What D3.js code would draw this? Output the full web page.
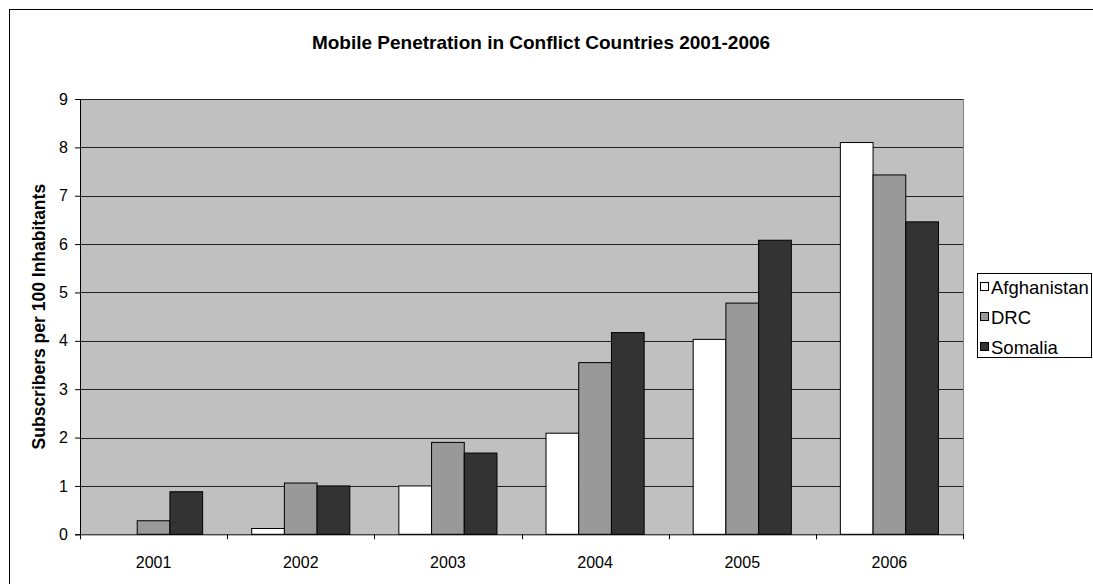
<!DOCTYPE html>
<html><head><meta charset="utf-8">
<script src="https://cdn.jsdelivr.net/npm/d3@7"></script>
<style>body{margin:0;background:#fff;}svg{display:block;font-family:"Liberation Sans",Arial,sans-serif;}</style>
</head><body>
<svg id="c" width="1093" height="584"></svg>
<script>
const years = ["2001","2002","2003","2004","2005","2006"];
const seriesNames = ["Afghanistan","DRC","Somalia"];
const afghanistan = [0, 0.12, 1.0, 2.09, 4.03, 8.10];
const drc = [0.28, 1.06, 1.90, 3.55, 4.78, 7.43];
const somalia = [0.88, 1.0, 1.68, 4.17, 6.08, 6.46];
const yTicks = [0,1,2,3,4,5,6,7,8,9];
const colors = ["#ffffff","#999999","#333333"];
const title = "Mobile Penetration in Conflict Countries 2001-2006";
const yTitle = "Subscribers per 100 Inhabitants";

const series = [afghanistan, drc, somalia];
const svg = d3.select("#c");
const L = 80, R = 963, T = 99, B = 534.3;
const FF = "Liberation Sans, Arial, sans-serif";

svg.append("rect").attr("x",9.5).attr("y",9.5).attr("width",1100).attr("height",600)
  .attr("fill","#fff").attr("stroke","#000").attr("stroke-width",1);

const x = d3.scaleBand().domain(years).range([L,R]).paddingInner(1.5/4.5).paddingOuter(0.75/4.5);
const xs = d3.scaleBand().domain(seriesNames).range([0,x.bandwidth()]);
const y = d3.scaleLinear().domain([0,9]).range([B,T]);

svg.append("rect").attr("x",L).attr("y",T).attr("width",R-L).attr("height",B-T).attr("fill","#c0c0c0");

svg.append("g").selectAll("line").data(yTicks.filter(d=>d>0)).join("line")
  .attr("x1",L).attr("x2",R).attr("y1",d=>Math.round(y(d))+0.5).attr("y2",d=>Math.round(y(d))+0.5)
  .attr("stroke","#222").attr("stroke-width",1);
svg.append("line").attr("x1",R+0.5).attr("x2",R+0.5).attr("y1",T).attr("y2",B).attr("stroke","#808080").attr("stroke-width",1);

const g = svg.append("g");
series.forEach((vals,si)=>{
  g.selectAll(null).data(years).join("rect")
    .attr("x",d=>x(d)+xs(seriesNames[si]))
    .attr("y",(d,i)=>y(vals[i]))
    .attr("width",xs.bandwidth())
    .attr("height",(d,i)=>B-y(vals[i]))
    .attr("fill",colors[si]).attr("stroke","#000").attr("stroke-width",1);
});

// Y axis
const yAxis = d3.axisLeft(y).tickValues(yTicks).tickSize(5).tickPadding(7).tickFormat(d3.format("d"));
const ya = svg.append("g").attr("transform",`translate(${L},0)`).call(yAxis);
ya.select(".domain").attr("stroke","#000");
ya.selectAll("text").attr("font-size",16).attr("fill","#000").attr("font-family",FF);

// X axis with ticks at category boundaries
const xa = svg.append("g").attr("transform",`translate(0,${B})`).call(d3.axisBottom(x).tickSize(0).tickPadding(22));
xa.select(".domain").attr("stroke","#000");
xa.selectAll("text").attr("font-size",16).attr("fill","#000").attr("font-family",FF);
const bounds = d3.range(years.length+1).map(i=>L + i*(R-L)/years.length);
svg.append("g").selectAll("line").data(bounds).join("line")
  .attr("x1",d=>Math.round(d)+0.5).attr("x2",d=>Math.round(d)+0.5).attr("y1",B).attr("y2",B+5).attr("stroke","#000");

// Title
svg.append("text").attr("x",541).attr("y",49).attr("text-anchor","middle")
  .attr("font-size",19).attr("font-weight","bold").text(title);
svg.append("text").attr("transform",`translate(45,${(T+B)/2}) rotate(-90)`).attr("text-anchor","middle")
  .attr("font-size",17.5).attr("font-weight","bold").text(yTitle);

// Legend
const lg = svg.append("g");
lg.append("rect").attr("x",977.5).attr("y",273.5).attr("width",114).attr("height",84).attr("fill","#fff").attr("stroke","#000");
seriesNames.forEach((n,i)=>{
  const cy = 287 + i*30;
  lg.append("rect").attr("x",980.5).attr("y",cy-4.5).attr("width",8).attr("height",8).attr("fill",colors[i]).attr("stroke","#000");
  lg.append("text").attr("x",991).attr("y",cy+6.5).attr("font-size",18.5).text(n);
});
</script>
</body></html>
